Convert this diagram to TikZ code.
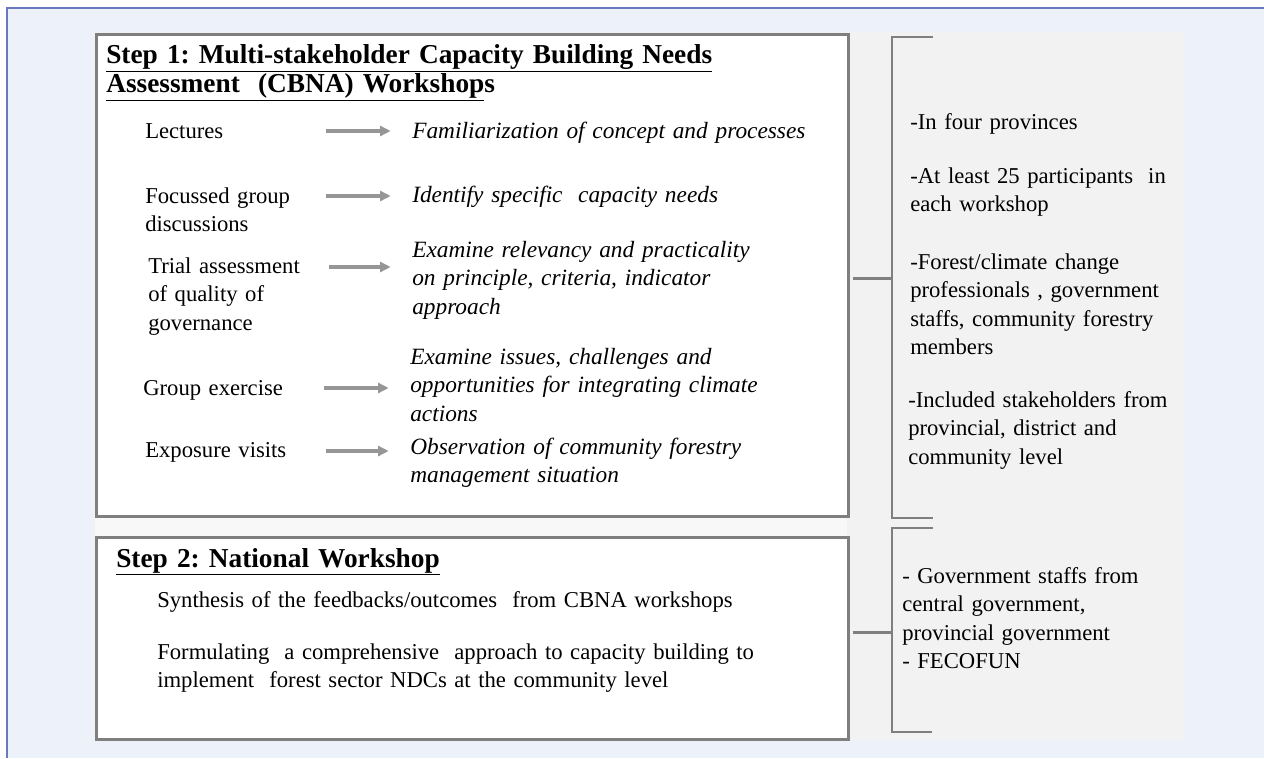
\documentclass[tikz,border=0pt]{standalone}
\usepackage{fontspec}
\setmainfont{Liberation Serif}
\frenchspacing
\usetikzlibrary{arrows.meta,calc}
\definecolor{bgblue}{RGB}{237,241,249}
\definecolor{frameblue}{RGB}{106,120,192}
\definecolor{panelgray}{RGB}{242,242,242}
\definecolor{gapgray}{RGB}{248,248,248}
\definecolor{linegray}{RGB}{127,127,127}
\definecolor{arrowgray}{RGB}{150,150,150}
\begin{document}
\begin{tikzpicture}[x=0.75pt,y=0.75pt,yscale=-1,xscale=1,
  stepbox/.style={draw=linegray,line width=2pt,fill=white},
  brace/.style={draw=linegray,line width=2pt},
  item/.style={inner sep=0pt,anchor=base west,text width=133pt,align=left,font=\fontsize{17}{21.4}\selectfont},
  goal/.style={item,text width=330pt,font=\fontsize{17.5}{21.6}\selectfont\itshape},
  note/.style={item,text width=240pt},
  title/.style={item,text width=600pt,font=\fontsize{20.5}{22}\selectfont\bfseries},
  goarrow/.style={draw=arrowgray,line width=2.6pt,-{Triangle[length=8pt,width=7.5pt]},shorten <=2pt,shorten >=16pt}]
\useasboundingbox (0,0) rectangle (1264,758);

% background
\fill[white] (0,0) rectangle (1264,758);
\fill[bgblue] (7,8) rectangle (1264,758);
\draw[frameblue,line width=1.5pt] (7,758) -- (7,8) -- (1264,8);
\fill[panelgray] (94,32) rectangle (1184,740);
\fill[gapgray] (95,515) rectangle (847,536);

% step boxes
\node[stepbox,minimum width=564pt,minimum height=361.5pt,anchor=north west] (step1) at (95,33) {};
\node[stepbox,minimum width=564pt,minimum height=151.5pt,anchor=north west] (step2) at (95,536) {};

% step 1
\node[title] (title1) at (106,63) {\underline{Step 1: Multi-stakeholder Capacity Building Needs}\\\underline{Assessment~~(CBNA) Workshop}s};

\node[item] (lec) at (145,138) {Lectures};
\node[item] (fgd) at (145,203) {Focussed group\\discussions};
\node[item] (trial) at (148,273) {Trial assessment\\of quality of\\governance};
\node[item] (grp) at (143,395) {Group exercise};
\node[item] (visit) at (145,457) {Exposure visits};

\node[goal] (lecgoal) at (412,138) {Familiarization of concept and processes};
\node[goal] (fgdgoal) at (412,202) {Identify specific~ capacity needs};
\node[goal] (trialgoal) at (412,257) {Examine relevancy and practicality\\on principle, criteria, indicator\\approach};
\node[goal] (grpgoal) at (410,364) {Examine issues, challenges and\\opportunities for integrating climate\\actions};
\node[goal] (visitgoal) at (410,454) {Observation of community forestry\\management situation};

\draw[goarrow] ($(lec.base east)+(0,-7)$) -- ($(lec.base east -| lecgoal.west)+(0,-7)$);
\draw[goarrow] ($(fgd.base east)+(0,-7)$) -- ($(fgd.base east -| fgdgoal.west)+(0,-7)$);
\draw[goarrow] ($(trial.base east)+(0,-6)$) -- ($(trial.base east -| trialgoal.west)+(0,-6)$);
\draw[goarrow] ($(grp.base east)+(0,-7)$) -- ($(grp.base east -| grpgoal.west)+(0,-7)$);
\draw[goarrow] ($(visit.base east)+(0,-6)$) -- ($(visit.base east -| visitgoal.west)+(0,-6)$);

% step 2
\node[title] (title2) at (116,567) {\underline{Step 2: National Workshop}};
\node[item,text width=500pt] (synth) at (157,607) {Synthesis of the feedbacks/outcomes~ from CBNA workshops};
\node[item,text width=500pt] (formul) at (157,659) {Formulating~ a comprehensive~ approach to capacity building to\\implement~ forest sector NDCs at the community level};

% brackets
\coordinate (br1) at (892,37);
\coordinate (br2) at (892,528);
\draw[brace] (933,37) -- (br1) -- (892,518) -- (933,518);
\draw[brace] (933,528) -- (br2) -- (892,732) -- (932,732);
\draw[brace] ($(step1.east)+(3,3)$) -- ($(step1.east -| br1)+(0,3)$);
\draw[brace] ($(step2.east)+(3,-6)$) -- ($(step2.east -| br2)+(0,-6)$);

\node[note] (prov) at (910,129) {-In four provinces};
\node[note] (part) at (910,183) {-At least 25 participants~ in\\each workshop};
\node[note] (prof) at (910,269) {-Forest/climate change\\professionals , government\\staffs, community forestry\\members};
\node[note] (incl) at (908,407) {-Included stakeholders from\\provincial, district and\\community level};
\node[note] (govt) at (902,583) {- Government staffs from\\central government,\\provincial government\\- FECOFUN};

\end{tikzpicture}
\end{document}
